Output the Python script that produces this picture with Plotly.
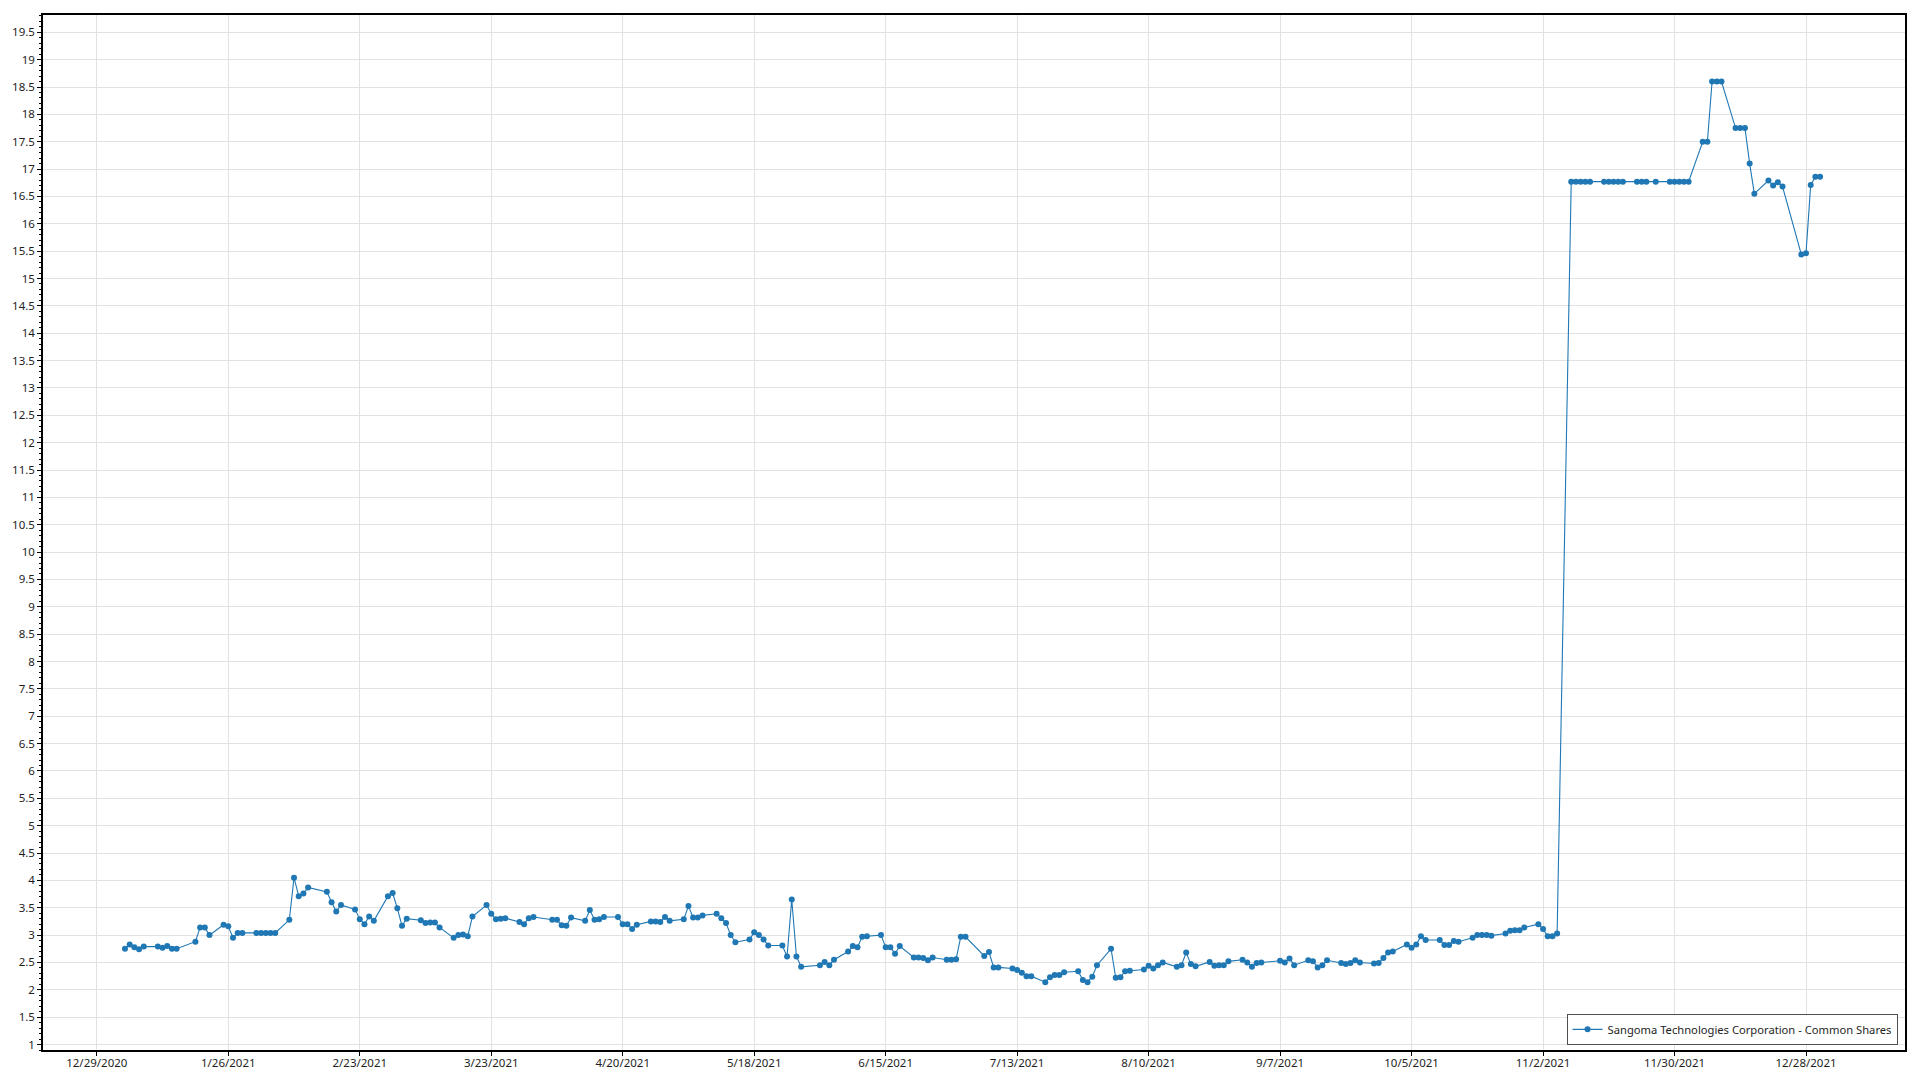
import plotly.graph_objects as go

series_name = "Sangoma Technologies Corporation - Common Shares"

dates_h1 = [
    "2021-01-04", "2021-01-05", "2021-01-06", "2021-01-07", "2021-01-08",
    "2021-01-11", "2021-01-12", "2021-01-13", "2021-01-14", "2021-01-15",
    "2021-01-19", "2021-01-20", "2021-01-21", "2021-01-22",
    "2021-01-25", "2021-01-26", "2021-01-27", "2021-01-28", "2021-01-29",
    "2021-02-01", "2021-02-02", "2021-02-03", "2021-02-04", "2021-02-05",
    "2021-02-08", "2021-02-09", "2021-02-10", "2021-02-11", "2021-02-12",
    "2021-02-16", "2021-02-17", "2021-02-18", "2021-02-19",
    "2021-02-22", "2021-02-23", "2021-02-24", "2021-02-25", "2021-02-26",
    "2021-03-01", "2021-03-02", "2021-03-03", "2021-03-04", "2021-03-05",
    "2021-03-08", "2021-03-09", "2021-03-10", "2021-03-11", "2021-03-12",
    "2021-03-15", "2021-03-16", "2021-03-17", "2021-03-18", "2021-03-19",
    "2021-03-22", "2021-03-23", "2021-03-24", "2021-03-25", "2021-03-26",
    "2021-03-29", "2021-03-30", "2021-03-31", "2021-04-01",
    "2021-04-05", "2021-04-06", "2021-04-07", "2021-04-08", "2021-04-09",
    "2021-04-12", "2021-04-13", "2021-04-14", "2021-04-15", "2021-04-16",
    "2021-04-19", "2021-04-20", "2021-04-21", "2021-04-22", "2021-04-23",
    "2021-04-26", "2021-04-27", "2021-04-28", "2021-04-29", "2021-04-30",
    "2021-05-03", "2021-05-04", "2021-05-05", "2021-05-06", "2021-05-07",
    "2021-05-10", "2021-05-11", "2021-05-12", "2021-05-13", "2021-05-14",
    "2021-05-17", "2021-05-18", "2021-05-19", "2021-05-20", "2021-05-21",
    "2021-05-24", "2021-05-25", "2021-05-26", "2021-05-27", "2021-05-28",
    "2021-06-01", "2021-06-02", "2021-06-03", "2021-06-04",
    "2021-06-07", "2021-06-08", "2021-06-09", "2021-06-10", "2021-06-11",
    "2021-06-14", "2021-06-15", "2021-06-16", "2021-06-17", "2021-06-18",
    "2021-06-21", "2021-06-22", "2021-06-23", "2021-06-24", "2021-06-25",
    "2021-06-28", "2021-06-29", "2021-06-30",
]
prices_h1 = [
    2.75, 2.83, 2.78, 2.74, 2.79,
    2.79, 2.77, 2.80, 2.75, 2.75,
    2.88, 3.14, 3.14, 3.00,
    3.19, 3.16, 2.95, 3.04, 3.04,
    3.04, 3.04, 3.04, 3.04, 3.04,
    3.28, 4.05, 3.71, 3.76, 3.87,
    3.79, 3.60, 3.43, 3.55,
    3.47, 3.29, 3.20, 3.34, 3.26,
    3.71, 3.77, 3.49, 3.17, 3.30,
    3.27, 3.22, 3.23, 3.23, 3.14,
    2.95, 3.00, 3.01, 2.98, 3.34,
    3.55, 3.39, 3.29, 3.30, 3.31,
    3.24, 3.20, 3.31, 3.33,
    3.28, 3.28, 3.18, 3.17, 3.32,
    3.26, 3.46, 3.28, 3.29, 3.33,
    3.33, 3.20, 3.20, 3.11, 3.19,
    3.25, 3.25, 3.24, 3.33, 3.26,
    3.29, 3.53, 3.32, 3.32, 3.36,
    3.39, 3.31, 3.22, 3.00, 2.87,
    2.92, 3.05, 3.00, 2.92, 2.81,
    2.81, 2.61, 3.65, 2.61, 2.42,
    2.45, 2.51, 2.45, 2.55,
    2.70, 2.80, 2.78, 2.97, 2.98,
    3.00, 2.78, 2.78, 2.66, 2.80,
    2.59, 2.59, 2.58, 2.54, 2.59,
    2.55, 2.55, 2.56,
]

dates_h2 = [
    "2021-07-01", "2021-07-02",
    "2021-07-06", "2021-07-07", "2021-07-08", "2021-07-09",
    "2021-07-12", "2021-07-13", "2021-07-14", "2021-07-15", "2021-07-16",
    "2021-07-19", "2021-07-20", "2021-07-21", "2021-07-22", "2021-07-23",
    "2021-07-26", "2021-07-27", "2021-07-28", "2021-07-29", "2021-07-30",
    "2021-08-02", "2021-08-03", "2021-08-04", "2021-08-05", "2021-08-06",
    "2021-08-09", "2021-08-10", "2021-08-11", "2021-08-12", "2021-08-13",
    "2021-08-16", "2021-08-17", "2021-08-18", "2021-08-19", "2021-08-20",
    "2021-08-23", "2021-08-24", "2021-08-25", "2021-08-26", "2021-08-27",
    "2021-08-30", "2021-08-31", "2021-09-01", "2021-09-02", "2021-09-03",
    "2021-09-07", "2021-09-08", "2021-09-09", "2021-09-10",
    "2021-09-13", "2021-09-14", "2021-09-15", "2021-09-16", "2021-09-17",
    "2021-09-20", "2021-09-21", "2021-09-22", "2021-09-23", "2021-09-24",
    "2021-09-27", "2021-09-28", "2021-09-29", "2021-09-30", "2021-10-01",
    "2021-10-04", "2021-10-05", "2021-10-06", "2021-10-07", "2021-10-08",
    "2021-10-11", "2021-10-12", "2021-10-13", "2021-10-14", "2021-10-15",
    "2021-10-18", "2021-10-19", "2021-10-20", "2021-10-21", "2021-10-22",
    "2021-10-25", "2021-10-26", "2021-10-27", "2021-10-28", "2021-10-29",
    "2021-11-01", "2021-11-02", "2021-11-03", "2021-11-04", "2021-11-05",
    "2021-11-08", "2021-11-09", "2021-11-10", "2021-11-11", "2021-11-12",
    "2021-11-15", "2021-11-16", "2021-11-17", "2021-11-18", "2021-11-19",
    "2021-11-22", "2021-11-23", "2021-11-24", "2021-11-26",
    "2021-11-29", "2021-11-30", "2021-12-01", "2021-12-02", "2021-12-03",
    "2021-12-06", "2021-12-07", "2021-12-08", "2021-12-09", "2021-12-10",
    "2021-12-13", "2021-12-14", "2021-12-15", "2021-12-16", "2021-12-17",
    "2021-12-20", "2021-12-21", "2021-12-22", "2021-12-23",
    "2021-12-27", "2021-12-28", "2021-12-29", "2021-12-30", "2021-12-31",
]
prices_h2 = [
    2.97, 2.97,
    2.62, 2.69, 2.41, 2.41,
    2.39, 2.36, 2.31, 2.25, 2.25,
    2.14, 2.23, 2.27, 2.27, 2.32,
    2.34, 2.18, 2.14, 2.24, 2.45,
    2.75, 2.22, 2.23, 2.34, 2.35,
    2.37, 2.44, 2.39, 2.45, 2.50,
    2.42, 2.45, 2.68, 2.47, 2.43,
    2.51, 2.44, 2.45, 2.45, 2.52,
    2.55, 2.50, 2.42, 2.49, 2.50,
    2.53, 2.50, 2.57, 2.45,
    2.54, 2.52, 2.41, 2.45, 2.54,
    2.49, 2.47, 2.49, 2.54, 2.50,
    2.48, 2.49, 2.58, 2.68, 2.70,
    2.83, 2.77, 2.83, 2.98, 2.91,
    2.91, 2.82, 2.82, 2.89, 2.88,
    2.95, 3.00, 3.00, 3.00, 2.99,
    3.03, 3.08, 3.09, 3.09, 3.14,
    3.20, 3.11, 2.98, 2.98, 3.03,
    16.77, 16.77, 16.77, 16.77, 16.77,
    16.77, 16.77, 16.77, 16.77, 16.77,
    16.77, 16.77, 16.77, 16.77,
    16.77, 16.77, 16.77, 16.77, 16.77,
    17.50, 17.50, 18.60, 18.60, 18.60,
    17.75, 17.75, 17.75, 17.10, 16.55,
    16.79, 16.70, 16.76, 16.68,
    15.44, 15.46, 16.71, 16.86, 16.86,
]

x_tick_start = "2020-12-29"
x_tick_step_days = 28
x_range = ["2020-12-17 13:00", "2022-01-18 02:00"]
y_range = [0.90, 19.816]
y_tick_step = 0.5

dates = dates_h1 + dates_h2
prices = prices_h1 + prices_h2

blue = "#1f77b4"
font_family = "Noto Sans"

fig = go.Figure()
fig.add_trace(go.Scatter(
    x=dates, y=prices, name=series_name,
    mode="lines+markers",
    line=dict(color=blue, width=1.1),
    marker=dict(color=blue, size=6),
    showlegend=True,
))

fig.update_layout(
    width=1920, height=1080,
    margin=dict(l=43, r=15, t=15, b=30, pad=0, autoexpand=False),
    paper_bgcolor="white", plot_bgcolor="white",
    font=dict(family=font_family, size=11.5, color="#1e1e1e"),
    showlegend=True,
    legend=dict(
        x=0.996, y=0.005, xanchor="right", yanchor="bottom",
        bgcolor="white", bordercolor="#505050", borderwidth=1,
        font=dict(family=font_family, size=11.2, color="#1e1e1e"),
    ),
)

fig.update_xaxes(
    type="date", range=x_range, automargin=False,
    tickmode="linear", tick0=x_tick_start, dtick=x_tick_step_days * 86400000,
    tickformat="%-m/%-d/%Y", ticklabelstandoff=-3,
    showgrid=True, gridcolor="#e2e2e2", gridwidth=1,
    showline=True, linecolor="black", linewidth=1.5, mirror=True,
    ticks="outside", ticklen=4, tickcolor="black", tickwidth=1,
    zeroline=False,
)
fig.update_yaxes(
    range=y_range, automargin=False,
    tickmode="linear", tick0=0, dtick=y_tick_step,
    showgrid=True, gridcolor="#e2e2e2", gridwidth=1,
    showline=True, linecolor="black", linewidth=1.5, mirror=True,
    ticks="outside", ticklen=4, tickcolor="black", tickwidth=1,
    minor=dict(dtick=0.1, ticks="outside", ticklen=2, tickcolor="black", showgrid=False),
    zeroline=False,
)

fig.write_html(
    "out.html",
    config={"displayModeBar": False},
    post_script="document.body.style.margin='0';document.body.style.overflow='hidden';",
)
